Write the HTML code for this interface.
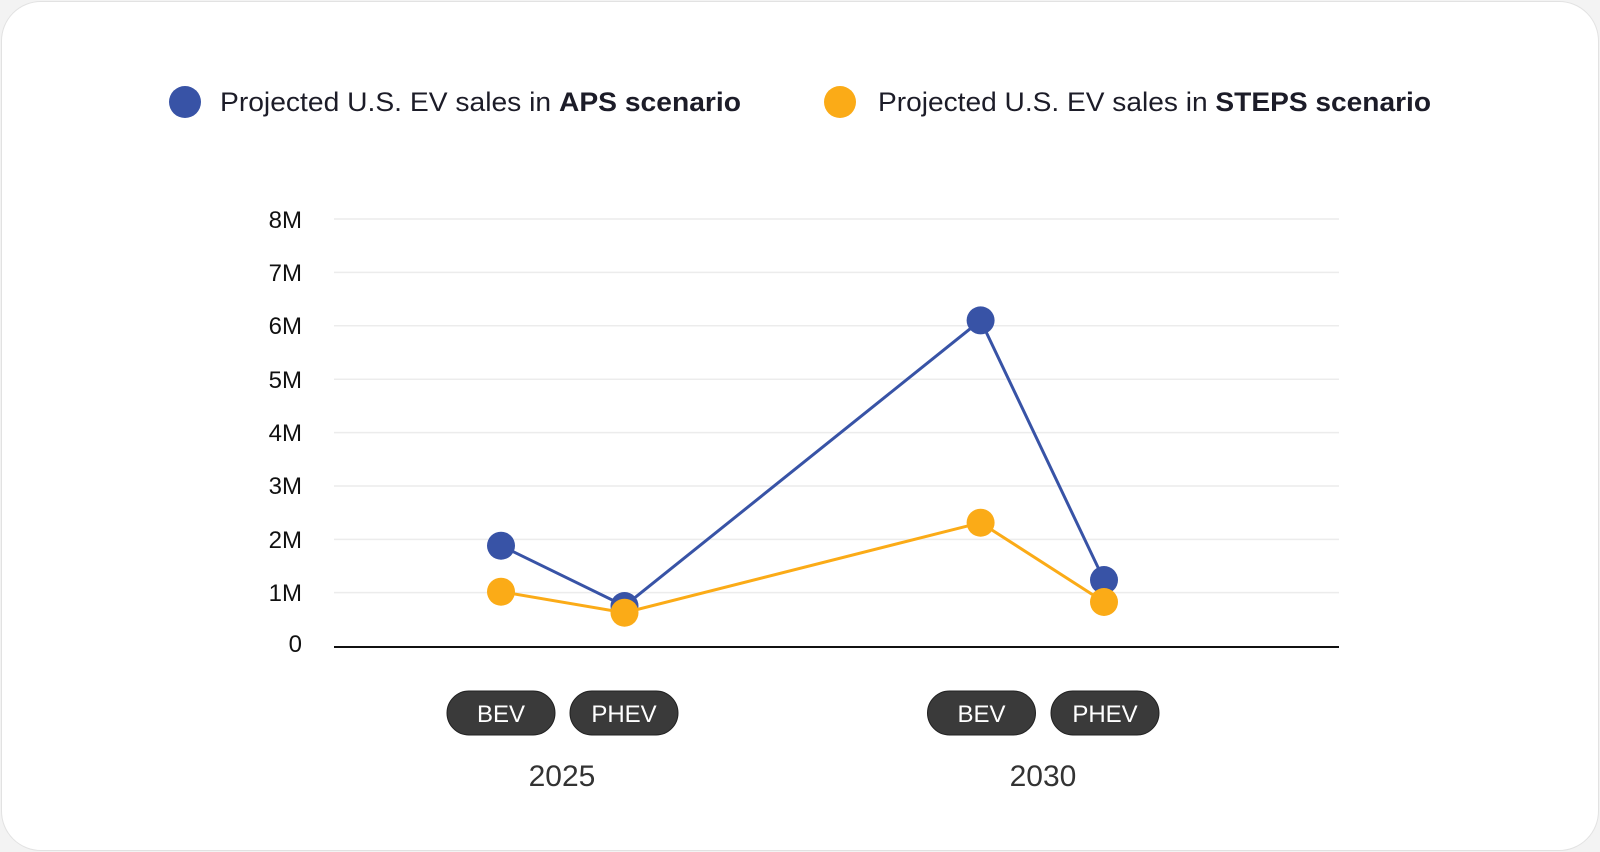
<!DOCTYPE html>
<html><head><meta charset="utf-8"><style>
html,body{margin:0;padding:0;background:#f3f3f3;}
body{width:1600px;height:852px;overflow:hidden;font-family:"Liberation Sans",sans-serif;}
.card{position:absolute;left:1px;top:1px;width:1596px;height:848px;background:#fff;border:1px solid #e2e2e2;border-radius:40px;}
</style></head><body>
<div class="card"></div>
<svg width="1600" height="852" style="position:absolute;left:0;top:0" font-family="Liberation Sans, sans-serif">
<circle cx="185" cy="102" r="16" fill="#3853a6"/>
<text x="220" y="111" font-size="27" fill="#1c1c28" textLength="521" lengthAdjust="spacingAndGlyphs">Projected U.S. EV sales in <tspan font-weight="bold">APS scenario</tspan></text>
<circle cx="840" cy="102" r="16" fill="#fbab17"/>
<text x="878" y="111" font-size="27" fill="#1c1c28" textLength="553" lengthAdjust="spacingAndGlyphs">Projected U.S. EV sales in <tspan font-weight="bold">STEPS scenario</tspan></text>
<g stroke="#ececec" stroke-width="1.5">
<line x1="334" x2="1339" y1="219" y2="219"/>
<line x1="334" x2="1339" y1="272.4" y2="272.4"/>
<line x1="334" x2="1339" y1="325.8" y2="325.8"/>
<line x1="334" x2="1339" y1="379.2" y2="379.2"/>
<line x1="334" x2="1339" y1="432.6" y2="432.6"/>
<line x1="334" x2="1339" y1="486" y2="486"/>
<line x1="334" x2="1339" y1="539.4" y2="539.4"/>
<line x1="334" x2="1339" y1="592.6" y2="592.6"/>
</g>
<line x1="334" x2="1339" y1="647" y2="647" stroke="#111" stroke-width="2"/>
<g font-size="24" fill="#111" text-anchor="end">
<text x="302" y="228">8M</text>
<text x="302" y="281">7M</text>
<text x="302" y="334">6M</text>
<text x="302" y="388">5M</text>
<text x="302" y="441">4M</text>
<text x="302" y="494">3M</text>
<text x="302" y="548">2M</text>
<text x="302" y="601">1M</text>
<text x="302" y="652">0</text>
</g>
<polyline points="501,545.7 624.5,606 980.6,320.4 1104,580" fill="none" stroke="#3853a6" stroke-width="3"/>
<g fill="#3853a6">
<circle cx="501" cy="545.7" r="14"/><circle cx="624.5" cy="606" r="14"/><circle cx="980.6" cy="320.4" r="14"/><circle cx="1104" cy="580" r="14"/>
</g>
<polyline points="501,591.7 624.5,612.7 980.6,522.7 1104,602" fill="none" stroke="#fbab17" stroke-width="3"/>
<g fill="#fbab17">
<circle cx="501" cy="591.7" r="14"/><circle cx="624.5" cy="612.7" r="14"/><circle cx="980.6" cy="522.7" r="14"/><circle cx="1104" cy="602" r="14"/>
</g>
<g fill="#3a3a3a" stroke="#222" stroke-width="1">
<rect x="447" y="691" width="108" height="44" rx="22"/>
<rect x="570" y="691" width="108" height="44" rx="22"/>
<rect x="927.5" y="691" width="108" height="44" rx="22"/>
<rect x="1051" y="691" width="108" height="44" rx="22"/>
</g>
<g font-size="24" fill="#fff" text-anchor="middle">
<text x="501" y="722">BEV</text>
<text x="624" y="722">PHEV</text>
<text x="981.5" y="722">BEV</text>
<text x="1105" y="722">PHEV</text>
</g>
<g font-size="30" fill="#333" text-anchor="middle">
<text x="562" y="786">2025</text>
<text x="1043" y="786">2030</text>
</g>
</svg>
</body></html>
